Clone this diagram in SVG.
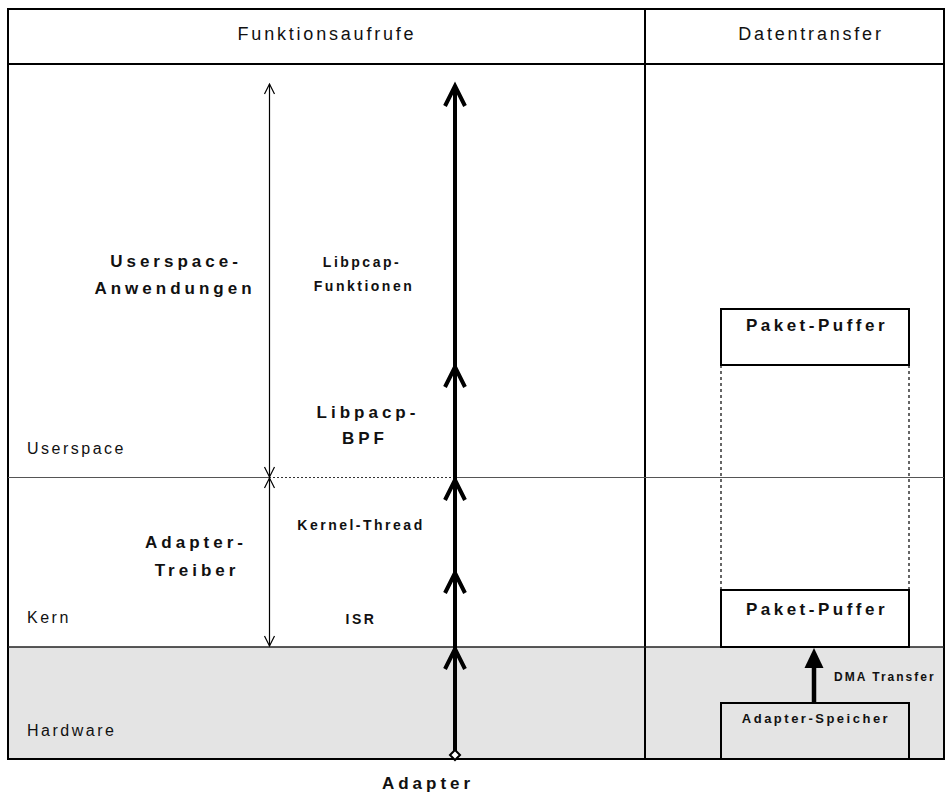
<svg xmlns="http://www.w3.org/2000/svg" width="948" height="796" viewBox="0 0 948 796">
<style>
text{font-family:"Liberation Sans",Arial,sans-serif;fill:#111}
.hd{font-size:18px;letter-spacing:2.8px;text-anchor:middle}
.rg{font-size:16px;letter-spacing:2.5px}
.b17{font-size:17px;font-weight:bold;letter-spacing:4px;text-anchor:middle}
.b14{font-size:14px;font-weight:bold;letter-spacing:2.5px;text-anchor:middle}
.pp{font-size:17px;font-weight:bold;letter-spacing:3.5px;text-anchor:middle}
.thick{stroke:#000;stroke-width:4;fill:none}
.chev{stroke:#000;stroke-width:4;fill:none;stroke-linejoin:miter}
.thin{stroke:#000;stroke-width:1.2;fill:none}
.box{fill:#fff;stroke:#000;stroke-width:2}
</style>
<g id="background">
<rect x="8" y="647" width="936" height="112" fill="#e4e4e4"/>
<rect x="8" y="9" width="936" height="750" fill="none" stroke="#000" stroke-width="2"/>
<line x1="8" y1="64" x2="944" y2="64" stroke="#000" stroke-width="2"/>
<line x1="645" y1="9" x2="645" y2="759" stroke="#000" stroke-width="2"/>
<line x1="8" y1="477.5" x2="269" y2="477.5" stroke="#555" stroke-width="1"/>
<line x1="269" y1="477.5" x2="455" y2="477.5" stroke="#333" stroke-width="1" stroke-dasharray="2,2"/>
<line x1="455" y1="477.5" x2="944" y2="477.5" stroke="#555" stroke-width="1"/>
<line x1="8" y1="647" x2="944" y2="647" stroke="#222" stroke-width="1.5"/>
</g>
<g id="headers">
<text class="hd" x="327" y="40">Funktionsaufrufe</text>
<text class="hd" x="811" y="40">Datentransfer</text>
</g>
<g id="layer-labels">
<text class="rg" x="27" y="454">Userspace</text>
<text class="rg" x="27" y="623">Kern</text>
<text class="rg" x="27" y="736">Hardware</text>
</g>
<g id="node-userspace-apps">
<text class="b17" x="176" y="267">Userspace-</text>
<text class="b17" x="175" y="294">Anwendungen</text>
</g>
<g id="node-adapter-treiber">
<text class="b17" x="196" y="548">Adapter-</text>
<text class="b17" x="197" y="576">Treiber</text>
</g>
<g id="node-libpcap-funktionen">
<text class="b14" x="362" y="267">Libpcap-</text>
<text class="b14" x="364" y="291">Funktionen</text>
</g>
<g id="node-libpacp-bpf">
<text class="b17" x="368" y="418">Libpacp-</text>
<text class="b17" x="365" y="444">BPF</text>
</g>
<g id="node-kernel-thread">
<text class="b14" x="361" y="530">Kernel-Thread</text>
</g>
<g id="node-isr">
<text class="b14" x="361" y="624">ISR</text>
</g>
<g id="node-adapter">
<text class="b17" x="428" y="789">Adapter</text>
</g>
<g id="node-paket-puffer-user">
<rect class="box" x="721" y="309" width="188" height="56"/>
<text class="pp" x="817" y="331">Paket-Puffer</text>
</g>
<g id="node-paket-puffer-kern">
<rect class="box" x="721" y="590" width="188" height="57"/>
<text class="pp" x="817" y="615">Paket-Puffer</text>
</g>
<g id="node-adapter-speicher">
<rect class="box" x="721" y="703" width="188" height="56" fill="#e4e4e4" style="fill:#e4e4e4"/>
<text x="816" y="723" style="font-size:13px;font-weight:bold;letter-spacing:2.5px;text-anchor:middle">Adapter-Speicher</text>
</g>
<g id="connectors">
<line class="thin" x1="269.5" y1="84" x2="269.5" y2="646"/>
<polyline class="thin" points="264.5,94 269.5,84 274.5,94"/>
<polyline class="thin" points="264.5,467 269.5,477 274.5,467"/>
<polyline class="thin" points="264.5,488 269.5,478 274.5,488"/>
<polyline class="thin" points="264.5,636 269.5,646 274.5,636"/>
<line class="thick" x1="455" y1="86" x2="455" y2="752"/>
<polyline class="chev" points="445,106 455,86 465,106"/>
<polyline class="chev" points="445,387 455,367 465,387"/>
<polyline class="chev" points="445,500 455,480 465,500"/>
<polyline class="chev" points="445,593 455,573 465,593"/>
<polyline class="chev" points="445,669 455,649 465,669"/>
<polygon points="455,750 460,755 455,760 450,755" fill="#fff" stroke="#000" stroke-width="2"/>
<line x1="721" y1="365" x2="721" y2="590" stroke="#000" stroke-width="1.2" stroke-dasharray="3,3"/>
<line x1="909" y1="365" x2="909" y2="590" stroke="#000" stroke-width="1.2" stroke-dasharray="3,3"/>
<line x1="814" y1="664" x2="814" y2="703" stroke="#000" stroke-width="4.5"/>
<polygon points="814,648 804.5,668 823.5,668" fill="#000"/>
<text x="834" y="681" style="font-size:12px;font-weight:bold;letter-spacing:2px">DMA Transfer</text>
</g>
</svg>
